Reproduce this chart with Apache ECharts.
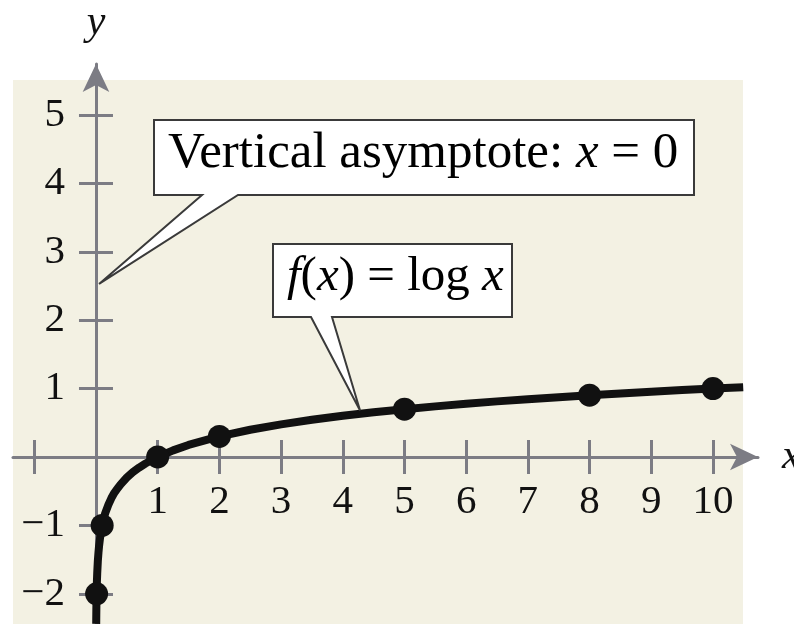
<!DOCTYPE html>
<html>
<head>
<meta charset="utf-8">
<script src="https://cdn.jsdelivr.net/npm/echarts@6/dist/echarts.min.js"></script>
<style>
  html, body { margin: 0; padding: 0; background: #ffffff; }
  #chart { width: 794px; height: 624px; }
</style>
</head>
<body>
<div id="chart"></div>
<script>
// f(x) = log x
const curveX = [0.0036, 0.005, 0.007, 0.01, 0.015, 0.02, 0.03, 0.04, 0.05, 0.065, 0.08, 0.1, 0.125, 0.15, 0.2, 0.25, 0.3, 0.35, 0.4, 0.5, 0.6, 0.7, 0.8, 0.9,
  1, 1.25, 1.5, 2, 2.5, 3, 3.5, 4, 4.5, 5, 5.5, 6, 6.5, 7, 7.5, 8, 8.5, 9, 9.5, 10, 10.49]
const curveY = [-2.44, -2.3, -2.15, -2, -1.82, -1.7, -1.52, -1.4, -1.3, -1.19, -1.1, -1, -0.9, -0.82, -0.7, -0.6, -0.52, -0.46, -0.4, -0.3, -0.22, -0.155, -0.097, -0.046,
  0, 0.097, 0.176, 0.301, 0.398, 0.477, 0.544, 0.602, 0.653, 0.699, 0.74, 0.778, 0.813, 0.845, 0.875, 0.903, 0.929, 0.954, 0.978, 1, 1.021]

// labelled points on the curve
const pointX = [0.01, 0.1, 1, 2, 5, 8, 10]
const pointY = [-2, -1, 0, 0.301, 0.699, 0.903, 1]

// ticks and labels
const xTicks = [-1, 1, 2, 3, 4, 5, 6, 7, 8, 9, 10]
const xLabels = [1, 2, 3, 4, 5, 6, 7, 8, 9, 10]
const yTicks = [-2, -1, 1, 2, 3, 4, 5]
const yLabels = [-2, -1, 1, 2, 3, 4, 5]

const serif = 'Liberation Serif'
const axisColor = '#7c7c84'
const ink = '#111111'
const xMin = -1.345, xMax = 10.73, yMin = -2.442, yMax = 5.746
const bgX = [-1.345, 10.486], bgY = [-2.442, 5.512]

const chart = echarts.init(document.getElementById('chart'))

function tickStyle (inside, values) {
  return { show: true, inside: inside, length: 17, customValues: values, lineStyle: { color: axisColor, width: 3 } }
}
const minus = v => (v < 0 ? '\u2212' + Math.abs(v) : String(v))

// tick labels ride on the zero lines, so they are drawn as label-only points
function labelSeries (name, data, position, distance, fmt) {
  return {
    name: name,
    type: 'scatter',
    data: data,
    symbolSize: 0,
    silent: true,
    z: 1,
    itemStyle: { opacity: 1 },
    label: {
      show: true, position: position, distance: distance,
      fontFamily: serif, fontSize: 41, color: ink,
      formatter: fmt
    }
  }
}

const option = {
  animation: false,
  backgroundColor: '#ffffff',
  grid: { left: 13, right: 36, top: 64, bottom: 0, containLabel: false, outerBoundsMode: 'none' },
  xAxis: [
    {
      type: 'value', min: xMin, max: xMax, position: 'bottom',
      name: 'x', nameLocation: 'end', nameGap: 24,
      nameTextStyle: { fontFamily: serif, fontStyle: 'italic', fontSize: 42, color: ink },
      axisLine: { onZero: true, onZeroAxisIndex: 0, symbol: ['none', 'arrow'], symbolSize: [20, 28], lineStyle: { color: axisColor, width: 3 } },
      axisTick: tickStyle(false, xTicks),
      axisLabel: { show: false },
      splitLine: { show: false }
    },
    {
      type: 'value', min: xMin, max: xMax, position: 'bottom',
      axisLine: { show: false, onZero: true, onZeroAxisIndex: 0 },
      axisTick: tickStyle(true, xTicks),
      axisLabel: { show: false },
      splitLine: { show: false }
    }
  ],
  yAxis: [
    {
      type: 'value', min: yMin, max: yMax, position: 'left',
      name: 'y', nameLocation: 'end', nameGap: 20,
      nameTextStyle: { fontFamily: serif, fontStyle: 'italic', fontSize: 42, color: ink },
      axisLine: { onZero: true, onZeroAxisIndex: 0, symbol: ['none', 'arrow'], symbolSize: [20, 28], lineStyle: { color: axisColor, width: 3 } },
      axisTick: tickStyle(false, yTicks),
      axisLabel: { show: false },
      splitLine: { show: false }
    },
    {
      type: 'value', min: yMin, max: yMax, position: 'left',
      axisLine: { show: false, onZero: true, onZeroAxisIndex: 0 },
      axisTick: tickStyle(true, yTicks),
      axisLabel: { show: false },
      splitLine: { show: false }
    }
  ],
  series: [
    {
      name: 'log x',
      type: 'line',
      data: curveX.map((x, i) => [x, curveY[i]]),
      showSymbol: false,
      smooth: false,
      lineStyle: { color: ink, width: 8, join: 'round' },
      silent: true,
      z: 3
    },
    {
      name: 'points',
      type: 'scatter',
      data: pointX.map((x, i) => [x, pointY[i]]),
      symbolSize: 23,
      itemStyle: { color: ink, opacity: 1 },
      silent: true,
      z: 4
    },
    labelSeries('x labels', xLabels.map(v => [v, 0]), 'bottom', 25, p => minus(p.value[0])),
    labelSeries('y labels', yLabels.map(v => [0, v]), 'left', 31, p => minus(p.value[1]))
  ]
}
chart.setOption(option)

// background panel and callouts, anchored through the axes
const px = (x, y) => chart.convertToPixel({ gridIndex: 0 }, [x, y])
const bg0 = px(bgX[0], bgY[1])
const bg1 = px(bgX[1], bgY[0])
const asymTip = px(0.05, 2.53)
const logTip = px(4.28, 0.68)

function callout (l, t, r, b, b0, b1, tip) {
  return {
    type: 'polygon', z: 20, silent: true,
    shape: { points: [[l, t], [r, t], [r, b], [b1, b], tip, [b0, b], [l, b]] },
    style: { fill: '#ffffff', stroke: '#3a3a3a', lineWidth: 2 }
  }
}
const rich = {
  r: { fontFamily: serif, fontSize: 51, color: ink },
  i: { fontFamily: serif, fontSize: 51, fontStyle: 'italic', color: ink },
  r2: { fontFamily: serif, fontSize: 49, color: ink },
  i2: { fontFamily: serif, fontSize: 49, fontStyle: 'italic', color: ink }
}

chart.setOption({
  graphic: [
    {
      type: 'rect', z: -10, silent: true,
      shape: { x: bg0[0], y: bg0[1], width: bg1[0] - bg0[0], height: bg1[1] - bg0[1] },
      style: { fill: '#f3f1e3' }
    },
    callout(154, 120, 694, 195, 202, 238, asymTip),
    {
      type: 'text', z: 21, silent: true, x: 168, y: 154,
      style: { text: '{r|Vertical asymptote: }{i|x}{r| = 0}', rich: rich, verticalAlign: 'middle', align: 'left' }
    },
    callout(273, 244, 512, 317, 311, 332, logTip),
    {
      type: 'text', z: 21, silent: true, x: 287, y: 277,
      style: { text: '{i2|f}{r2|(}{i2|x}{r2|) = log }{i2|x}', rich: rich, verticalAlign: 'middle', align: 'left' }
    }
  ]
})
</script>
</body>
</html>
